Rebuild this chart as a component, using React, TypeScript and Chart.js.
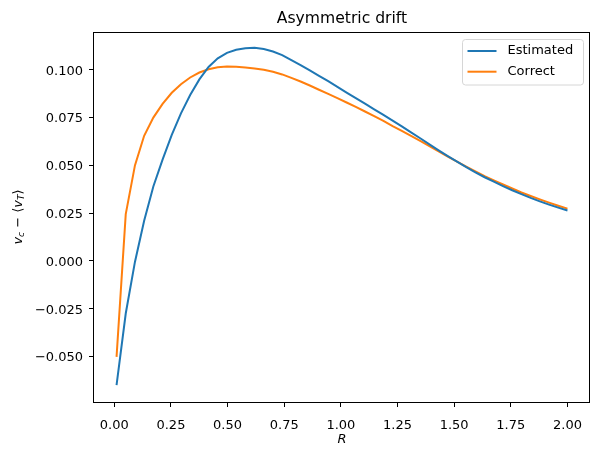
import React, { useEffect, useRef } from "react";
import { Chart, registerables } from "chart.js";

Chart.register(...registerables);

const chartTitle = "Asymmetric drift";
const seriesLabels = ["Estimated", "Correct"];
const seriesColors = ["#1f77b4", "#ff7f0e"];

const R = [
  0.0100, 0.0506, 0.0912, 0.1318, 0.1724, 0.2131, 0.2537, 0.2943, 0.3349, 0.3755,
  0.4161, 0.4567, 0.4973, 0.5380, 0.5786, 0.6192, 0.6598, 0.7004, 0.7410, 0.7816,
  0.8222, 0.8629, 0.9035, 0.9441, 0.9847, 1.0253, 1.0659, 1.1065, 1.1471, 1.1878,
  1.2284, 1.2690, 1.3096, 1.3502, 1.3908, 1.4314, 1.4720, 1.5127, 1.5533, 1.5939,
  1.6345, 1.6751, 1.7157, 1.7563, 1.7969, 1.8376, 1.8782, 1.9188, 1.9594, 2.0000,
];

const estimated = [
  -0.0650, -0.0275, -0.0005, 0.0210, 0.0390, 0.0530, 0.0660, 0.0772, 0.0868, 0.0950,
  0.1015, 0.1060, 0.1089, 0.1105, 0.1113, 0.1115, 0.1109, 0.1096, 0.1077, 0.1051,
  0.1025, 0.0997, 0.0969, 0.0941, 0.0911, 0.0881, 0.0852, 0.0823, 0.0793, 0.0764,
  0.0734, 0.0704, 0.0673, 0.0642, 0.0610, 0.0579, 0.0549, 0.0520, 0.0491, 0.0464,
  0.0438, 0.0415, 0.0392, 0.0370, 0.0350, 0.0330, 0.0312, 0.0295, 0.0279, 0.0264,
];

const correct = [
  -0.0502, 0.0245, 0.0500, 0.0655, 0.0750, 0.0822, 0.0880, 0.0925, 0.0960, 0.0986,
  0.1003, 0.1013, 0.1017, 0.1016, 0.1012, 0.1007, 0.1000, 0.0990, 0.0976, 0.0958,
  0.0939, 0.0918, 0.0896, 0.0874, 0.0852, 0.0829, 0.0806, 0.0782, 0.0758, 0.0733,
  0.0706, 0.0681, 0.0655, 0.0628, 0.0601, 0.0573, 0.0546, 0.0520, 0.0494, 0.0469,
  0.0444, 0.0422, 0.0400, 0.0379, 0.0358, 0.0340, 0.0322, 0.0305, 0.0289, 0.0274,
];

const xTicks = [0, 0.25, 0.5, 0.75, 1.0, 1.25, 1.5, 1.75, 2.0];
const yTicks = [-0.05, -0.025, 0, 0.025, 0.05, 0.075, 0.1];

const FONT = "'DejaVu Sans', sans-serif";

function fmt(v: number, d: number): string {
  const s = Math.abs(v).toFixed(d);
  return v < -1e-12 ? "\u2212" + s : s;
}

const decorPlugin = {
  id: "decor",
  afterDraw(chart: any) {
    const ctx = chart.ctx as CanvasRenderingContext2D;
    const a = chart.chartArea;
    ctx.save();
    // frame (all four spines)
    ctx.strokeStyle = "#000";
    ctx.lineWidth = 1;
    const l = Math.round(a.left) - 0.5;
    const t = Math.round(a.top) + 0.5;
    const r = Math.round(a.right) - 0.5;
    const b = Math.round(a.bottom) + 0.5;
    ctx.strokeRect(l, t, r - l, b - t);

    const cx = (a.left + a.right) / 2;
    // title
    ctx.fillStyle = "#000";
    ctx.font = `15.6px ${FONT}`;
    ctx.textAlign = "center";
    ctx.textBaseline = "alphabetic";
    ctx.fillText(chartTitle, cx, 23);

    // x label
    ctx.font = `italic 13px ${FONT}`;
    ctx.fillText("R", cx, 442.5);

    // y label: v_c − ⟨v_T⟩ (rotated)
    const parts = [
      { t: "v", it: true, s: 13, dy: 0 },
      { t: "c", it: true, s: 9.1, dy: 2.2 },
      { t: " \u2212 ", it: false, s: 13, dy: 0 },
      { t: "\u27E8", it: false, s: 13, dy: 0 },
      { t: "v", it: true, s: 13, dy: 0 },
      { t: "T", it: true, s: 9.1, dy: 2.2 },
      { t: "\u27E9", it: false, s: 13, dy: 0 },
    ];
    let W = 0;
    const ws: number[] = [];
    for (const p of parts) {
      ctx.font = `${p.it ? "italic " : ""}${p.s}px ${FONT}`;
      const w = ctx.measureText(p.t).width;
      ws.push(w);
      W += w;
    }
    ctx.translate(21.5, (a.top + a.bottom) / 2);
    ctx.rotate(-Math.PI / 2);
    ctx.textAlign = "left";
    let x = -W / 2;
    parts.forEach((p, i) => {
      ctx.font = `${p.it ? "italic " : ""}${p.s}px ${FONT}`;
      ctx.fillText(p.t, x, p.dy);
      x += ws[i];
    });
    ctx.restore();

    // legend
    ctx.save();
    const bx = 462.5, by = 39.5, bw = 121, bh = 45.5, rad = 3;
    ctx.beginPath();
    ctx.moveTo(bx + rad, by);
    ctx.lineTo(bx + bw - rad, by);
    ctx.quadraticCurveTo(bx + bw, by, bx + bw, by + rad);
    ctx.lineTo(bx + bw, by + bh - rad);
    ctx.quadraticCurveTo(bx + bw, by + bh, bx + bw - rad, by + bh);
    ctx.lineTo(bx + rad, by + bh);
    ctx.quadraticCurveTo(bx, by + bh, bx, by + bh - rad);
    ctx.lineTo(bx, by + rad);
    ctx.quadraticCurveTo(bx, by, bx + rad, by);
    ctx.closePath();
    ctx.fillStyle = "rgba(255,255,255,0.8)";
    ctx.fill();
    ctx.strokeStyle = "#d6d6d6";
    ctx.lineWidth = 1;
    ctx.stroke();
    ctx.font = `13px ${FONT}`;
    ctx.textAlign = "left";
    ctx.textBaseline = "middle";
    chart.data.datasets.forEach((ds: any, i: number) => {
      const y = 51 + i * 20.7;
      ctx.strokeStyle = ds.borderColor;
      ctx.lineWidth = 2;
      ctx.beginPath();
      ctx.moveTo(467.5, y);
      ctx.lineTo(496.5, y);
      ctx.stroke();
      ctx.fillStyle = "#000";
      ctx.fillText(ds.label, 507.5, y);
    });
    ctx.restore();
  },
};

export default function App() {
  const ref = useRef<HTMLCanvasElement | null>(null);

  useEffect(() => {
    const canvas = ref.current;
    if (!canvas) return;
    Chart.defaults.font.family = FONT;
    Chart.defaults.font.size = 13;
    Chart.defaults.color = "#000";

    const series = [estimated, correct];
    const chart = new Chart(canvas, {
      type: "line",
      data: {
        datasets: series.map((vals, i) => ({
          label: seriesLabels[i],
          data: R.map((r, k) => ({ x: r, y: vals[k] })),
          borderColor: seriesColors[i],
          backgroundColor: seriesColors[i],
          borderWidth: 2,
          pointRadius: 0,
          tension: 0,
          fill: false,
        })),
      },
      options: {
        responsive: false,
        animation: false,
        devicePixelRatio: 1,
        layout: { padding: { top: 32, right: 9, left: 0, bottom: 0 } },
        plugins: {
          legend: { display: false },
          title: { display: false },
          tooltip: { enabled: false },
        },
        scales: {
          x: {
            type: "linear",
            min: -0.0895,
            max: 2.0995,
            afterBuildTicks: (axis: any) => {
              axis.ticks = xTicks.map((v) => ({ value: v }));
            },
            afterFit: (s: any) => {
              s.height = 53;
            },
            ticks: {
              autoSkip: false,
              maxRotation: 0,
              padding: 11,
              color: "#000",
              font: { size: 13, family: FONT },
              callback: (v: any) => fmt(Number(v), 2),
            },
            grid: {
              drawOnChartArea: false,
              drawTicks: true,
              tickLength: 5,
              tickColor: "#000",
              tickWidth: 1,
            },
            border: { display: false },
          },
          y: {
            type: "linear",
            min: -0.0738,
            max: 0.1198,
            afterBuildTicks: (axis: any) => {
              axis.ticks = yTicks.map((v) => ({ value: v }));
            },
            afterFit: (s: any) => {
              s.width = 94;
            },
            ticks: {
              autoSkip: false,
              padding: 6,
              labelOffset: 1.5,
              color: "#000",
              font: { size: 13, family: FONT },
              callback: (v: any) => fmt(Number(v), 3),
            },
            grid: {
              drawOnChartArea: false,
              drawTicks: true,
              tickLength: 5,
              tickColor: "#000",
              tickWidth: 1,
            },
            border: { display: false },
          },
        },
      },
      plugins: [decorPlugin],
    });
    return () => chart.destroy();
  }, []);

  return (
    <div style={{ position: "fixed", left: 0, top: 0, width: 599, height: 455, background: "#fff" }}>
      <canvas ref={ref} width={599} height={455} style={{ display: "block", width: 599, height: 455 }} />
    </div>
  );
}
